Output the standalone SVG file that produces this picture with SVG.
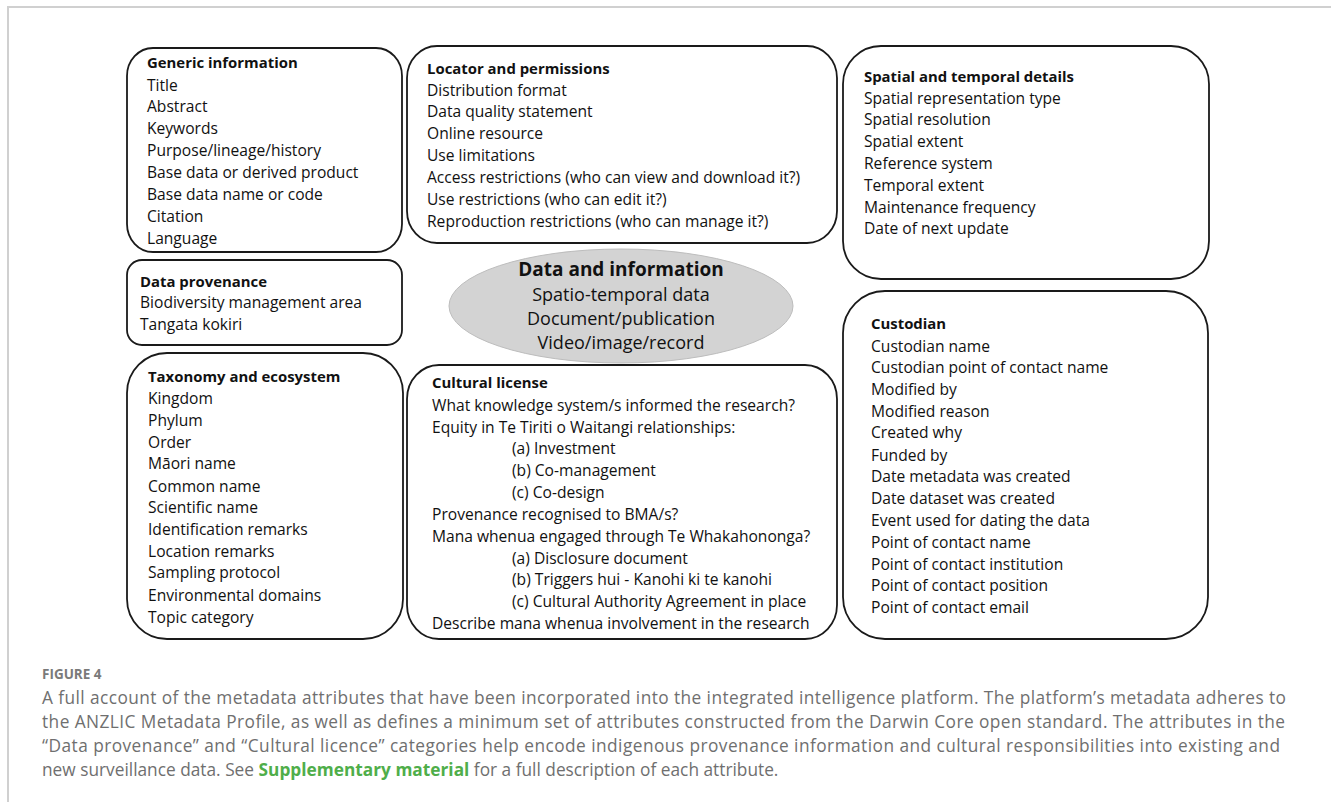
<svg xmlns="http://www.w3.org/2000/svg" width="1331" height="802" viewBox="0 0 1331 802">
<style>
.box{fill:#fff;stroke:#1a1a1a;stroke-width:1.8}
.t{font-family:"Open Sans","Noto Sans",sans-serif;font-size:15.6px;fill:#111}
.h{font-weight:bold;font-size:14.9px}
.ell{font-family:"Open Sans","Noto Sans",sans-serif;fill:#111;text-anchor:middle}
.cap{font-family:"Open Sans","Noto Sans",sans-serif;font-size:17.3px;fill:#6f6f6f}
.frame{stroke:#d0d0d0;stroke-width:2;fill:none}
</style>
<rect width="1331" height="802" fill="#fff"/>
<path class="frame" d="M8 802 V7 H1331"/>
<g id="connectors"></g>

<g id="generic">
<rect class="box" x="127" y="48" width="275" height="204" rx="26" ry="28"/>
<text class="t" x="147"><tspan class="h" y="68">Generic information</tspan><tspan x="147" y="91">Title</tspan><tspan x="147" y="112">Abstract</tspan><tspan x="147" y="134">Keywords</tspan><tspan x="147" y="156">Purpose/lineage/history</tspan><tspan x="147" y="178">Base data or derived product</tspan><tspan x="147" y="200">Base data name or code</tspan><tspan x="147" y="222">Citation</tspan><tspan x="147" y="244">Language</tspan></text>
</g>

<g id="locator">
<rect class="box" x="407" y="46" width="430" height="197" rx="30" ry="32"/>
<text class="t" x="427"><tspan class="h" y="74">Locator and permissions</tspan><tspan x="427" y="96">Distribution format</tspan><tspan x="427" y="117">Data quality statement</tspan><tspan x="427" y="139">Online resource</tspan><tspan x="427" y="161">Use limitations</tspan><tspan x="427" y="183">Access restrictions (who can view and download it?)</tspan><tspan x="427" y="205">Use restrictions (who can edit it?)</tspan><tspan x="427" y="227">Reproduction restrictions (who can manage it?)</tspan></text>
</g>

<g id="spatial">
<rect class="box" x="843" y="46" width="366" height="233" rx="38" ry="38"/>
<text class="t" x="864"><tspan class="h" y="82">Spatial and temporal details</tspan><tspan x="864" y="104">Spatial representation type</tspan><tspan x="864" y="125">Spatial resolution</tspan><tspan x="864" y="147">Spatial extent</tspan><tspan x="864" y="169">Reference system</tspan><tspan x="864" y="191">Temporal extent</tspan><tspan x="864" y="213">Maintenance frequency</tspan><tspan x="864" y="234">Date of next update</tspan></text>
</g>

<g id="provenance">
<rect class="box" x="127" y="260" width="275" height="85" rx="15" ry="15"/>
<text class="t" x="140"><tspan class="h" y="287">Data provenance</tspan><tspan x="140" y="308">Biodiversity management area</tspan><tspan x="140" y="330">Tangata kokiri</tspan></text>
</g>

<g id="data-information">
<ellipse cx="621" cy="306" rx="172" ry="57" fill="#d3d3d3" stroke="#bdbdbd" stroke-width="1"/>
<text class="ell" x="621" y="276" font-size="19" font-weight="bold">Data and information</text>
<text class="ell" x="621" y="301" font-size="18">Spatio-temporal data</text>
<text class="ell" x="621" y="325" font-size="18">Document/publication</text>
<text class="ell" x="621" y="349" font-size="18">Video/image/record</text>
</g>

<g id="custodian">
<rect class="box" x="843" y="291" width="365" height="348" rx="42" ry="42"/>
<text class="t" x="871"><tspan class="h" y="329">Custodian</tspan><tspan x="871" y="352">Custodian name</tspan><tspan x="871" y="373">Custodian point of contact name</tspan><tspan x="871" y="395">Modified by</tspan><tspan x="871" y="417">Modified reason</tspan><tspan x="871" y="438">Created why</tspan><tspan x="871" y="461">Funded by</tspan><tspan x="871" y="482">Date metadata was created</tspan><tspan x="871" y="504">Date dataset was created</tspan><tspan x="871" y="526">Event used for dating the data</tspan><tspan x="871" y="548">Point of contact name</tspan><tspan x="871" y="570">Point of contact institution</tspan><tspan x="871" y="591">Point of contact position</tspan><tspan x="871" y="613">Point of contact email</tspan></text>
</g>

<g id="taxonomy">
<rect class="box" x="127" y="353" width="276" height="286" rx="40" ry="40"/>
<text class="t" x="148"><tspan class="h" y="382">Taxonomy and ecosystem</tspan><tspan x="148" y="404">Kingdom</tspan><tspan x="148" y="426">Phylum</tspan><tspan x="148" y="448">Order</tspan><tspan x="148" y="469">Māori name</tspan><tspan x="148" y="492">Common name</tspan><tspan x="148" y="513">Scientific name</tspan><tspan x="148" y="535">Identification remarks</tspan><tspan x="148" y="557">Location remarks</tspan><tspan x="148" y="578">Sampling protocol</tspan><tspan x="148" y="601">Environmental domains</tspan><tspan x="148" y="623">Topic category</tspan></text>
</g>

<g id="cultural">
<rect class="box" x="407" y="365" width="430" height="274" rx="32" ry="34"/>
<text class="t" x="432"><tspan class="h" y="388">Cultural license</tspan><tspan x="432" y="411">What knowledge system/s informed the research?</tspan><tspan x="432" y="433">Equity in Te Tiriti o Waitangi relationships:</tspan><tspan x="512" y="454">(a) Investment</tspan><tspan x="512" y="476">(b) Co-management</tspan><tspan x="512" y="498">(c) Co-design</tspan><tspan x="432" y="520">Provenance recognised to BMA/s?</tspan><tspan x="432" y="542">Mana whenua engaged through Te Whakahononga?</tspan><tspan x="512" y="564">(a) Disclosure document</tspan><tspan x="512" y="585">(b) Triggers hui - Kanohi ki te kanohi</tspan><tspan x="512" y="607">(c) Cultural Authority Agreement in place</tspan><tspan x="432" y="629">Describe mana whenua involvement in the research</tspan></text>
</g>

<g id="caption">
<text x="42" y="679" font-family="'Open Sans',sans-serif" font-size="13.5" font-weight="bold" fill="#7a7a7a">FIGURE 4</text>
<text class="cap" x="42" y="704" textLength="1244" lengthAdjust="spacing">A full account of the metadata attributes that have been incorporated into the integrated intelligence platform. The platform’s metadata adheres to</text>
<text class="cap" x="42" y="728" textLength="1243" lengthAdjust="spacing">the ANZLIC Metadata Profile, as well as defines a minimum set of attributes constructed from the Darwin Core open standard. The attributes in the</text>
<text class="cap" x="42" y="752" textLength="1238" lengthAdjust="spacing">“Data provenance” and “Cultural licence” categories help encode indigenous provenance information and cultural responsibilities into existing and</text>
<text class="cap" x="42" y="776">new surveillance data. See <tspan font-weight="bold" fill="#4fae4a">Supplementary material</tspan> for a full description of each attribute.</text>
</g>
</svg>
